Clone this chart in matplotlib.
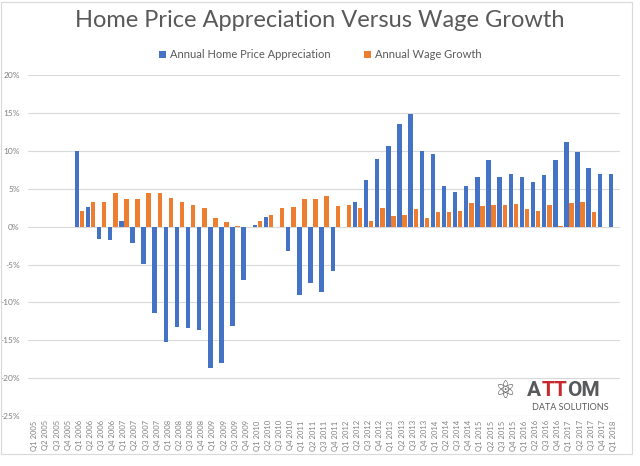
import matplotlib
matplotlib.use("Agg")
import matplotlib.pyplot as plt
import numpy as np
from matplotlib.patches import Rectangle

plt.rcParams['font.family'] = ['Lato', 'DejaVu Sans']

years = list(range(2005, 2019))
quarters = [f"Q{q} {y}" for y in years for q in range(1, 5)][:53]

nan = np.nan
home_price = [nan, nan, nan, nan,
              10.0, 2.6, -1.6, -1.8,
              0.7, -2.1, -4.9, -11.4,
              -15.2, -13.3, -13.4, -13.6,
              -18.6, -18.0, -13.1, -7.1,
              0.2, 1.3, 0.0, -3.2,
              -9.0, -7.4, -8.6, -5.8,
              0.0, 3.3, 6.1, 8.9,
              10.6, 13.5, 14.9, 10.0,
              9.6, 5.4, 4.6, 5.4,
              6.5, 8.8, 6.5, 7.0,
              6.6, 5.9, 6.8, 8.8,
              11.2, 9.8, 7.7, 6.9,
              6.9]
wage_growth = [nan, nan, nan, nan,
               2.1, 3.2, 3.3, 4.5,
               3.6, 3.7, 4.5, 4.5,
               3.8, 3.3, 2.9, 2.5,
               1.2, 0.6, 0.1, 0.0,
               0.8, 1.5, 2.5, 2.6,
               3.6, 3.6, 4.1, 2.7,
               2.8, 2.4, 0.8, 2.5,
               1.4, 1.6, 2.3, 1.1,
               1.9, 1.9, 2.1, 3.1,
               2.7, 2.9, 2.8, 3.0,
               2.3, 2.1, 2.8, 0.1,
               3.1, 3.3, 1.9, nan,
               nan]

blue = "#4472C4"
orange = "#ED7D31"
grey_text = "#595959"

fig = plt.figure(figsize=(6.4, 4.66), dpi=100)
ax = fig.add_axes([0.044, 0.107, 0.925, 0.732])

x = np.arange(len(quarters))
w = 0.4
ax.bar(x - 0.23, home_price, width=w, color=blue, label="Annual Home Price Appreciation", zorder=3)
ax.bar(x + 0.23, wage_growth, width=w, color=orange, label="Annual Wage Growth", zorder=3)

ax.set_ylim(-25, 20)
ax.set_xlim(-0.6, len(quarters) - 0.4)
ax.set_yticks(np.arange(-25, 21, 5))
ax.set_yticklabels([f"{v}%" for v in range(-25, 21, 5)])
ax.set_xticks(x)
ax.set_xticklabels(quarters, rotation=90)
ax.tick_params(axis="y", length=0, labelsize=6, labelcolor="#808080", pad=6)
ax.tick_params(axis="x", length=0, labelsize=5.5, labelcolor="#808080", pad=3)
ax.grid(axis="y", color="#D9D9D9", linewidth=0.8, zorder=0)
for s in ax.spines.values():
    s.set_visible(False)

fig.text(0.5, 0.957, "Home Price Appreciation Versus Wage Growth", ha="center", va="center",
         fontsize=17, color=grey_text)
fig.legend(loc="center", bbox_to_anchor=(0.5, 0.882), ncol=2, frameon=False,
           fontsize=8, handlelength=0.7, handleheight=0.7, handletextpad=0.3,
           columnspacing=3, labelcolor=grey_text)

# logo
logo_font = ["Roboto", "DejaVu Sans"]
fig.text(0.790, 0.162, "\u269B", fontsize=17, color="#555555", ha="center", va="center",
         family=["DejaVu Sans"])
fig.text(0.823, 0.162, "A", fontsize=15, fontweight="bold", color="#58595B", ha="left", va="center",
         family=logo_font)
fig.text(0.847, 0.162, "TT", fontsize=15, fontweight="bold", color="#C8282D", ha="left", va="center",
         family=logo_font)
fig.text(0.886, 0.162, "OM", fontsize=15, fontweight="bold", color="#58595B", ha="left", va="center",
         family=logo_font)
fig.text(0.831, 0.126, "DATA SOLUTIONS", fontsize=6.5, color="#58595B", ha="left", va="center")

fig.add_artist(Rectangle((0.002, 0.025), 0.985, 0.97, transform=fig.transFigure,
                         fill=False, edgecolor="#D9D9D9", linewidth=0.8))

fig.savefig("out.png", dpi=100, facecolor="white")
